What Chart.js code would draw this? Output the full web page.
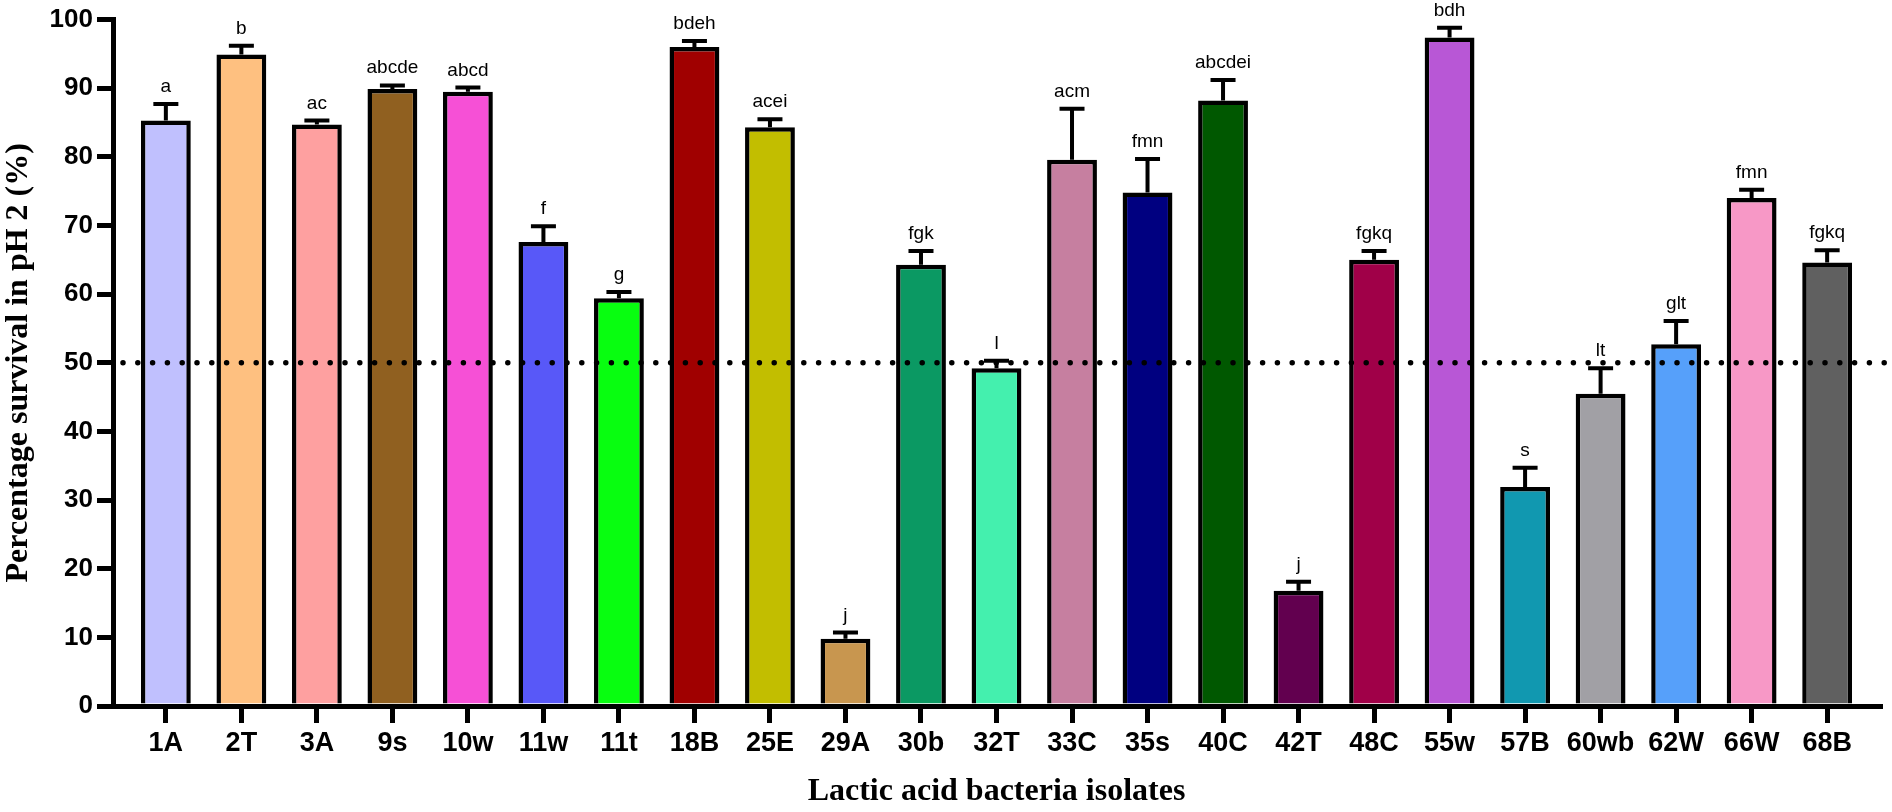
<!DOCTYPE html>
<html>

<head>
    <style>
        html, body {
            margin: 0;
            padding: 0;
            background: #fff;
        }
        canvas {
            display: block;
        }
    </style>
    <title>Percentage survival in pH 2</title>
</head>

<body>
    <canvas id="canvas" width="1892" height="812"></canvas>
    <script src="https://cdn.jsdelivr.net/npm/chart.js@4/dist/chart.umd.min.js"></script>
    <script type="text/javascript">
        var categories = ['1A', '2T', '3A', '9s', '10w', '11w', '11t', '18B', '25E', '29A', '30b', '32T',
            '33C', '35s', '40C', '42T', '48C', '55w', '57B', '60wb', '62W', '66W', '68B'];
        var survival = [85.3, 94.9, 84.7, 89.9, 89.5, 67.6, 59.4, 96.0, 84.3, 9.8, 64.3, 49.2,
            79.6, 74.8, 88.2, 16.8, 65.0, 97.4, 31.9, 45.5, 52.7, 74.0, 64.6];
        var errors = [2.4, 1.3, 0.6, 0.5, 0.6, 2.3, 0.9, 0.9, 1.2, 0.9, 2.0, 1.1,
            7.4, 4.9, 3.0, 1.3, 1.3, 1.4, 2.8, 3.7, 3.4, 1.2, 1.8];
        var letters = ['a', 'b', 'ac', 'abcde', 'abcd', 'f', 'g', 'bdeh', 'acei', 'j', 'fgk', 'l',
            'acm', 'fmn', 'abcdei', 'j', 'fgkq', 'bdh', 's', 'lt', 'glt', 'fmn', 'fgkq'];
        var barColors = ['#c0c0fe', '#fec080', '#fea0a0', '#906020', '#f650d6', '#5858f8', '#08fe10',
            '#a00000', '#c2be00', '#c8964f', '#0b9963', '#44f0ae', '#c67fa0', '#000080', '#005800',
            '#62004f', '#a00048', '#b857d6', '#1198b0', '#a1a0a5', '#56a0fa', '#f798c6', '#606060'];
        var threshold = 50;

        var sansFont = '"Liberation Sans", Arial, sans-serif';
        var serifFont = '"Liberation Serif", "Times New Roman", serif';

        // error bars, group letters and the dotted 50% line
        var extras = {
            id: 'extras',
            afterDatasetsDraw: function(chart) {
                var ctx = chart.ctx;
                var xs = chart.scales.x;
                var ys = chart.scales.y;
                var area = chart.chartArea;
                ctx.save();
                ctx.strokeStyle = '#000';
                ctx.fillStyle = '#000';
                ctx.lineWidth = 4;
                ctx.font = '19px ' + sansFont;
                ctx.textAlign = 'center';
                ctx.textBaseline = 'alphabetic';
                survival.forEach(function(v, i) {
                    var x = xs.getPixelForValue(i);
                    var yBar = ys.getPixelForValue(v);
                    var yTop = ys.getPixelForValue(v + errors[i]);
                    ctx.beginPath();
                    ctx.moveTo(x, yBar);
                    ctx.lineTo(x, yTop);
                    ctx.moveTo(x - 12.5, yTop);
                    ctx.lineTo(x + 12.5, yTop);
                    ctx.stroke();
                    ctx.fillText(letters[i], x, yTop - 12);
                });
                var y50 = ys.getPixelForValue(threshold);
                ctx.beginPath();
                ctx.setLineDash([0, 14.8]);
                ctx.lineCap = 'round';
                ctx.lineWidth = 5.5;
                ctx.moveTo(area.left + 10, y50);
                ctx.lineTo(chart.width, y50);
                ctx.stroke();
                ctx.restore();
            }
        };

        window.onload = function() {
            var ctx = document.getElementById('canvas').getContext('2d');
            window.survivalChart = new Chart(ctx, {
                type: 'bar',
                data: {
                    datasets: [{
                        label: 'Survival',
                        data: survival.map(function(v, i) { return { x: i, y: v }; }),
                        backgroundColor: barColors,
                        borderColor: '#000',
                        borderWidth: 4.5,
                        barPercentage: 0.66,
                        categoryPercentage: 1
                    }]
                },
                options: {
                    responsive: false,
                    animation: false,
                    devicePixelRatio: 1,
                    layout: {
                        padding: { left: 0, top: 15, right: 12, bottom: 0 }
                    },
                    plugins: {
                        legend: { display: false },
                        tooltip: { enabled: false }
                    },
                    scales: {
                        x: {
                            type: 'linear',
                            min: -0.7,
                            max: 22.7,
                            offset: false,
                            afterBuildTicks: function(scale) {
                                scale.ticks = categories.map(function(c, i) { return { value: i }; });
                            },
                            afterFit: function(scale) { scale.height = 106; },
                            border: { display: true, color: '#000', width: 5 },
                            grid: {
                                offset: false,
                                drawOnChartArea: false,
                                drawTicks: true,
                                tickLength: 17,
                                color: '#000',
                                lineWidth: 5
                            },
                            ticks: {
                                autoSkip: false,
                                maxRotation: 0,
                                minRotation: 0,
                                padding: 4,
                                color: '#000',
                                font: { family: sansFont, size: 27, weight: 'bold' },
                                callback: function(value) { return categories[value]; }
                            },
                            title: {
                                display: true,
                                text: 'Lactic acid bacteria isolates',
                                color: '#000',
                                font: { family: serifFont, size: 32, weight: 'bold' },
                                padding: { top: 0, bottom: 1 }
                            }
                        },
                        y: {
                            min: 0,
                            max: 100,
                            afterFit: function(scale) { scale.width = 113; },
                            border: { display: true, color: '#000', width: 5 },
                            grid: {
                                drawOnChartArea: false,
                                drawTicks: true,
                                tickLength: 16,
                                color: '#000',
                                lineWidth: 5
                            },
                            ticks: {
                                stepSize: 10,
                                padding: 4,
                                color: '#000',
                                font: { family: sansFont, size: 26, weight: 'bold' }
                            },
                            title: {
                                display: true,
                                text: 'Percentage survival in pH 2 (%)',
                                color: '#000',
                                font: { family: serifFont, size: 32, weight: 'bold' },
                                padding: { top: 0, bottom: 0 }
                            }
                        }
                    }
                },
                plugins: [extras]
            });
        };
    </script>
</body>

</html>
